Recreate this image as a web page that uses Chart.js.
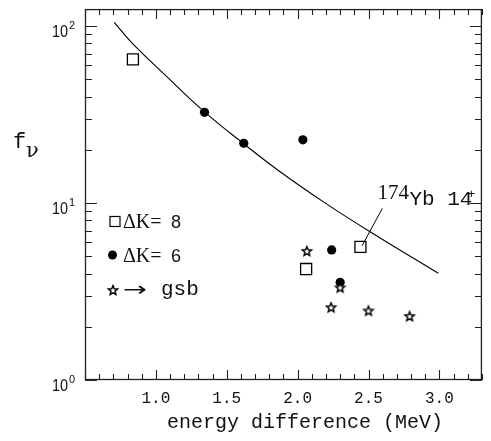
<!DOCTYPE html>
<html>
<head>
<meta charset="utf-8">
<script src="https://cdn.jsdelivr.net/npm/chart.js@4.4.0/dist/chart.umd.min.js"></script>
<style>
  body { margin: 0; background: #fff; }
  #wrap { width: 491px; height: 441px; }
</style>
</head>
<body>
<div id="wrap"><canvas id="fig" width="491" height="441"></canvas></div>
<script>
// energy difference (MeV) vs f_nu
const curveE = [0.706, 0.838, 1.068, 1.343, 1.618, 1.869, 2.190, 2.511, 2.992];
const curveF = [105.2, 79.4, 52.7, 32.8, 21.7, 15.2, 10.07, 6.89, 4.01];

const dk8E = [0.838, 2.06, 2.443];
const dk8F = [65.0, 4.24, 5.66];

const dk6E = [1.343, 1.62, 2.037, 2.24, 2.30];
const dk6F = [32.6, 21.8, 22.8, 5.44, 3.57];

const gsbE = [2.065, 2.30, 2.236, 2.50, 2.79];
const gsbF = [5.37, 3.34, 2.58, 2.47, 2.30];

// leader from the 174Yb label down to its dK=8 point
const tagE = [2.598, 2.455];
const tagF = [9.34, 5.75];

const xTickVals = [1.0, 1.5, 2.0, 2.5, 3.0];
const xTickText = ['1.0', '1.5', '2.0', '2.5', '3.0'];
const yTickVals = [1, 10, 100];
const yTickExp = ['0', '1', '2'];

const toXY = (xs, ys) => xs.map((x, i) => ({x: x, y: ys[i]}));

// small outlined five point star used as a point style
function makeStar(r) {
  const c = document.createElement('canvas');
  const s = Math.ceil(r * 2 + 4);
  c.width = s; c.height = s;
  const g = c.getContext('2d');
  g.translate(s / 2, s / 2 + 0.6);
  g.beginPath();
  for (let i = 0; i < 10; i++) {
    const a = -Math.PI / 2 + i * Math.PI / 5;
    const rr = i % 2 ? r * 0.45 : r;
    g.lineTo(rr * Math.cos(a), rr * Math.sin(a));
  }
  g.closePath();
  g.fillStyle = '#fff';
  g.fill();
  g.lineWidth = 1.5;
  g.strokeStyle = '#000';
  g.stroke();
  return c;
}
const starImg = makeStar(4.8);

const decor = {
  id: 'decor',
  afterDraw(chart) {
    const ctx = chart.ctx;
    const xs = chart.scales.x, ys = chart.scales.y;
    const a = chart.chartArea;
    ctx.save();

    // frame
    ctx.strokeStyle = '#222';
    ctx.lineWidth = 1.3;
    ctx.strokeRect(a.left + 0.5, a.top + 0.5, a.right - a.left - 1, a.bottom - a.top - 1);

    // inward ticks, x every 0.1
    ctx.lineWidth = 1.1;
    ctx.beginPath();
    for (let k = 5; k <= 33; k++) {
      const v = k / 10;
      const px = Math.round(xs.getPixelForValue(v)) + 0.5;
      const len = k % 5 === 0 ? 10 : 6;
      ctx.moveTo(px, a.bottom); ctx.lineTo(px, a.bottom - len);
      ctx.moveTo(px, a.top); ctx.lineTo(px, a.top + len);
    }
    // log ticks on y
    for (let d = 1; d <= 100; d *= 10) {
      for (let m = 1; m <= 9; m++) {
        const v = m * d;
        if (v > ys.max) break;
        const py = Math.round(ys.getPixelForValue(v)) + 0.5;
        const len = m === 1 ? 12 : 7;
        ctx.moveTo(a.left, py); ctx.lineTo(a.left + len, py);
        ctx.moveTo(a.right, py); ctx.lineTo(a.right - len, py);
      }
    }
    ctx.stroke();

    ctx.fillStyle = '#111';
    ctx.textBaseline = 'alphabetic';

    // x tick labels
    ctx.font = '16px "Liberation Mono"';
    ctx.textAlign = 'center';
    xTickVals.forEach((v, i) => {
      ctx.fillText(xTickText[i], xs.getPixelForValue(v), 403);
    });

    // y tick labels 10^n
    ctx.textAlign = 'left';
    yTickVals.forEach((v, i) => {
      const py = ys.getPixelForValue(v);
      ctx.font = '16px "Liberation Sans"';
      ctx.save();
      ctx.translate(52, py + 10.5);
      ctx.scale(0.9, 1);
      ctx.fillText('10', 0, 0);
      ctx.restore();
      ctx.font = '11px "Liberation Sans"';
      ctx.fillText(yTickExp[i], 69, py + 3);
    });

    // axis titles
    ctx.textAlign = 'center';
    ctx.font = '20px "Liberation Mono"';
    ctx.fillText('energy difference (MeV)', 305, 428);
    ctx.textAlign = 'left';
    ctx.font = '22px "Liberation Mono"';
    ctx.fillText('f', 13, 148);
    ctx.font = '21px "DejaVu Serif"';
    ctx.fillText('\u03bd', 26, 157);

    // key
    ctx.lineWidth = 1.2;
    ctx.strokeStyle = '#000';
    ctx.strokeRect(110, 216.5, 10, 10);
    ctx.beginPath();
    ctx.arc(112.5, 255, 4.5, 0, Math.PI * 2);
    ctx.fillStyle = '#000';
    ctx.fill();
    ctx.drawImage(starImg, 113 - starImg.width / 2, 290 - starImg.height / 2);

    ctx.fillStyle = '#111';
    ctx.font = '20px "Liberation Serif"';
    ctx.fillText('\u0394K=', 123, 228);
    ctx.fillText('\u0394K=', 123, 262);
    ctx.font = '18px "Liberation Sans"';
    ctx.fillText('8', 171, 228);
    ctx.fillText('6', 171, 262);
    ctx.font = '20px "DejaVu Sans"';
    const aw = ctx.measureText('\u2192').width;
    ctx.save();
    ctx.translate(123, 296);
    ctx.scale(24 / aw, 1);
    ctx.fillText('\u2192', 0, 0);
    ctx.restore();
    ctx.font = '21px "Liberation Mono"';
    ctx.fillText('gsb', 161, 295);

    // 174Yb 14+ tag, placed from the leader's upper end
    const tx = xs.getPixelForValue(tagE[0]);
    const ty = ys.getPixelForValue(tagF[0]);
    ctx.font = '21px "Liberation Serif"';
    ctx.fillText('174', tx - 5, ty - 9);
    ctx.font = '21px "Liberation Mono"';
    ctx.fillText('Yb 14', tx + 27, ty - 3);
    ctx.font = '13px "Liberation Mono"';
    ctx.fillText('+', tx + 85, ty - 10);

    ctx.restore();
  }
};

new Chart(document.getElementById('fig'), {
  type: 'scatter',
  data: {
    datasets: [
      {
        data: toXY(curveE, curveF),
        showLine: true,
        borderColor: '#000',
        borderWidth: 1.1,
        pointRadius: 0,
        tension: 0.4,
        order: 5
      },
      {
        data: toXY(tagE, tagF),
        showLine: true,
        borderColor: '#000',
        borderWidth: 1,
        pointRadius: 0,
        order: 4
      },
      {
        data: toXY(dk8E, dk8F),
        pointStyle: 'rect',
        pointRadius: 7.8,
        borderColor: '#000',
        borderWidth: 1.3,
        backgroundColor: 'rgba(255,255,255,0)',
        order: 3
      },
      {
        data: toXY(dk6E, dk6F),
        pointStyle: 'circle',
        pointRadius: 4.6,
        borderWidth: 0,
        backgroundColor: '#000',
        order: 2
      },
      {
        data: toXY(gsbE, gsbF),
        pointStyle: starImg,
        order: 1
      }
    ]
  },
  options: {
    responsive: false,
    animation: false,
    devicePixelRatio: 1,
    layout: { padding: { left: 85, right: 1, top: 7, bottom: 61 } },
    plugins: { legend: { display: false }, tooltip: { enabled: false } },
    scales: {
      x: { type: 'linear', min: 0.5, max: 3.3, display: false },
      y: { type: 'logarithmic', min: 1, max: 125, display: false }
    }
  },
  plugins: [decor]
});
</script>
</body>
</html>
